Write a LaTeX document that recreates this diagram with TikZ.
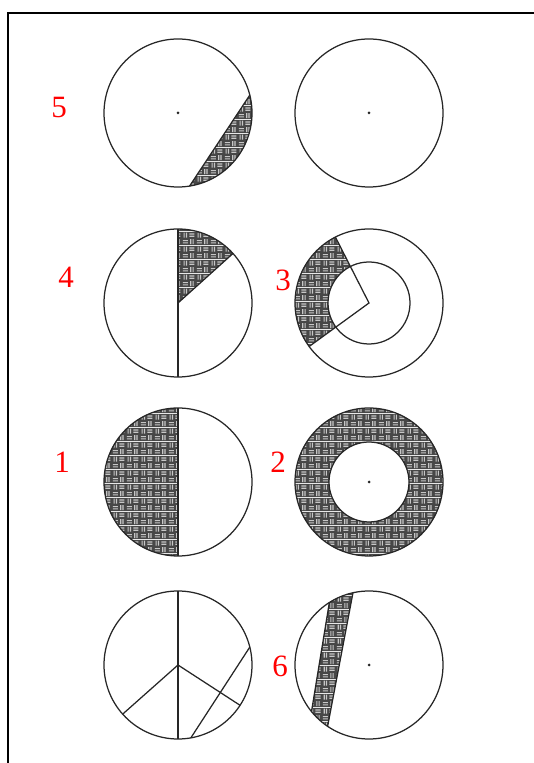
\documentclass[tikz,border=0pt]{standalone}
\usepackage{fontspec}
\setmainfont{Liberation Serif}
\usetikzlibrary{patterns,calc}
\pgfdeclarepatterninherentlycolored{weave}{\pgfpointorigin}{\pgfqpoint{14pt}{14pt}}{\pgfqpoint{14pt}{14pt}}{%
 \pgfsetfillcolor{black!72}%
 \pgfpathrectangle{\pgfpointorigin}{\pgfqpoint{14pt}{14pt}}\pgfusepath{fill}%
 \pgfsetlinewidth{1.2pt}%
 \pgfsetstrokecolor{white!78!black}%
 \pgfpathmoveto{\pgfqpoint{0.8pt}{2.3pt}}\pgfpathlineto{\pgfqpoint{6.2pt}{2.3pt}}%
 \pgfpathmoveto{\pgfqpoint{0.8pt}{4.7pt}}\pgfpathlineto{\pgfqpoint{6.2pt}{4.7pt}}%
 \pgfpathmoveto{\pgfqpoint{9.3pt}{0.8pt}}\pgfpathlineto{\pgfqpoint{9.3pt}{6.2pt}}%
 \pgfpathmoveto{\pgfqpoint{11.7pt}{0.8pt}}\pgfpathlineto{\pgfqpoint{11.7pt}{6.2pt}}%
 \pgfpathmoveto{\pgfqpoint{2.3pt}{7.8pt}}\pgfpathlineto{\pgfqpoint{2.3pt}{13.2pt}}%
 \pgfpathmoveto{\pgfqpoint{4.7pt}{7.8pt}}\pgfpathlineto{\pgfqpoint{4.7pt}{13.2pt}}%
 \pgfpathmoveto{\pgfqpoint{7.8pt}{9.3pt}}\pgfpathlineto{\pgfqpoint{13.2pt}{9.3pt}}%
 \pgfpathmoveto{\pgfqpoint{7.8pt}{11.7pt}}\pgfpathlineto{\pgfqpoint{13.2pt}{11.7pt}}%
 \pgfusepath{stroke}%
}
\tikzset{
  ln/.style={line width=1.25pt, draw=black!85},
  shade/.style={pattern=weave},
  lbl/.style={text=red, font=\fontsize{31}{31}\selectfont, inner sep=0pt},
  dotc/.style={fill=black!85}
}
\begin{document}
\begin{tikzpicture}[x=1pt,y=1pt]
\useasboundingbox (0,0) rectangle (533,763);
% frame
\draw[line width=2pt] (8,-2) -- (8,750) -- (540,750);
\def\R{74}
% centers
\coordinate (A) at (178,650);
\coordinate (B) at (369,650);
\coordinate (C) at (178,460);
\coordinate (D) at (369,460);
\coordinate (E) at (178,281);
\coordinate (F) at (369,281);
\coordinate (G) at (178,98);
\coordinate (H) at (369,98);
% circle A: segment
\fill[shade] ($(A)+(-81:\R)$) arc[start angle=-81,end angle=14,radius=\R] -- cycle;
\draw[ln] (A) circle[radius=\R];
\draw[ln] ($(A)+(-81:\R)$) -- ($(A)+(14:\R)$);
\fill[dotc] (A) circle[radius=1.5];
% circle B
\draw[ln] (B) circle[radius=\R];
\fill[dotc] (B) circle[radius=1.5];
% circle C: wedge
\fill[shade] (C) -- ($(C)+(42:\R)$) arc[start angle=42,end angle=90,radius=\R] -- cycle;
\draw[ln] (C) circle[radius=\R];
\draw[ln] ($(C)+(90:\R)$) -- ($(C)+(270:\R)$);
\draw[ln] (C) -- ($(C)+(42:\R)$);
% circle D: annular sector
\fill[shade] ($(D)+(117:\R)$) arc[start angle=117,end angle=216,radius=\R] -- ($(D)+(216:41)$) arc[start angle=216,end angle=117,radius=41] -- cycle;
\draw[ln] (D) circle[radius=\R];
\draw[ln] (D) circle[radius=41];
\draw[ln] ($(D)+(117:\R)$) -- (D) -- ($(D)+(216:\R)$);
% circle E: half
\fill[shade] ($(E)+(90:\R)$) arc[start angle=90,end angle=270,radius=\R] -- cycle;
\draw[ln] (E) circle[radius=\R];
\draw[ln] ($(E)+(90:\R)$) -- ($(E)+(270:\R)$);
% circle F: annulus
\fill[shade, even odd rule] (F) circle[radius=\R] (F) circle[radius=40];
\draw[ln] (F) circle[radius=\R];
\draw[ln] (F) circle[radius=40];
\fill[dotc] (F) circle[radius=1.5];
% circle G: lines
\draw[ln] (G) circle[radius=\R];
\draw[ln] ($(G)+(90:\R)$) -- ($(G)+(270:\R)$);
\draw[ln] ($(G)+(221.6:\R)$) -- (G) -- ($(G)+(-33:\R)$);
\draw[ln] ($(G)+(14:\R)$) -- ($(G)+(-80:\R)$);
% circle H: band
\fill[shade] ($(H)+(102.5:\R)$) arc[start angle=102.5,end angle=122.4,radius=\R] -- ($(H)+(219:\R)$) arc[start angle=219,end angle=236,radius=\R] -- cycle;
\draw[ln] (H) circle[radius=\R];
\draw[ln] ($(H)+(102.5:\R)$) -- ($(H)+(236:\R)$);
\draw[ln] ($(H)+(122.4:\R)$) -- ($(H)+(219:\R)$);
\fill[dotc] (H) circle[radius=1.5];
% labels
\node[lbl] (l5) at (59,655) {5};
\node[lbl] (l4) at (66,486) {4};
\node[lbl] (l3) at (283,483) {3};
\node[lbl] (l1) at (62,301) {1};
\node[lbl] (l2) at (278,301) {2};
\node[lbl] (l6) at (280,97) {6};
\end{tikzpicture}
\end{document}
